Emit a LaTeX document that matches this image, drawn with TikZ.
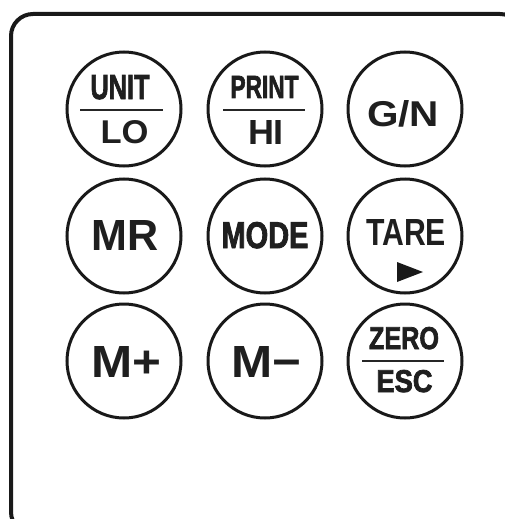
\documentclass[tikz,border=0pt]{standalone}
\usepackage{fontspec}
\setmainfont{Liberation Sans}
\newfontfamily\heavyfam{Liberation Sans}[BoldFeatures={FakeBold=2.5}]
\newcommand\keytext[3]{\resizebox{#1pt}{#2pt}{#3}}
\newcommand\condtext[3]{\resizebox{#1pt}{#2pt}{\heavyfam\bfseries #3}}
\begin{document}
\begin{tikzpicture}[x=1pt,y=-1pt,
  key/.style={circle,draw=black!90,line width=3pt,minimum size=114pt,inner sep=0pt},
  lbl/.style={anchor=base,inner sep=0pt,text=black!88,font=\bfseries\fontsize{30}{30}\selectfont},
  bar/.style={line width=2pt,draw=black!85}]
\useasboundingbox (0,0) rectangle (505,519);
\clip (0,0) rectangle (505,519);
\draw[line width=4pt,rounded corners=22pt,draw=black!90] (11,14) rectangle (522,534);
% keys
\node[key] (k1) at (124,109) {};
\node[key] (k2) at (265,109) {};
\node[key] (k3) at (405,109) {};
\node[key] (k4) at (124,236) {};
\node[key] (k5) at (265,236) {};
\node[key] (k6) at (405,236) {};
\node[key] (k7) at (124,361) {};
\node[key] (k8) at (265,361) {};
\node[key] (k9) at (405,361) {};
% row 1
\node[lbl] (t1a) at (120,99) {\condtext{59}{24}{UNIT}};
\node[lbl] (t1b) at (124.5,143) {\keytext{48}{23}{LO}};
\draw[bar] (80,110) -- (163,110);
\node[lbl] (t2a) at (264.5,98) {\condtext{68}{22}{PRINT}};
\node[lbl] (t2b) at (266,144) {\keytext{36}{24}{HI}};
\draw[bar] (223,110) -- (305,110);
\node[lbl] (t3) at (403,126) {\keytext{72}{26}{G/N}};
% row 2
\node[lbl] (t4) at (125,250) {\keytext{67}{30}{MR}};
\node[lbl] (t5) at (265,248) {\condtext{87}{26}{MODE}};
\node[lbl] (t6) at (406,245) {\keytext{80}{26}{TARE}};
\fill[black!90] (397,262) -- (397,282) -- (423,272) -- cycle;
% row 3
\node[lbl] (t7) at (126.5,377) {\keytext{70}{31}{M+}};
\node[lbl] (t8) at (266.5,377) {\keytext{70}{31}{M−}};
\node[lbl] (t9a) at (404,349) {\condtext{70}{22}{ZERO}};
\node[lbl] (t9b) at (404.5,392) {\condtext{56}{22}{ESC}};
\draw[bar] (362,361) -- (444,361);
\end{tikzpicture}
\end{document}
